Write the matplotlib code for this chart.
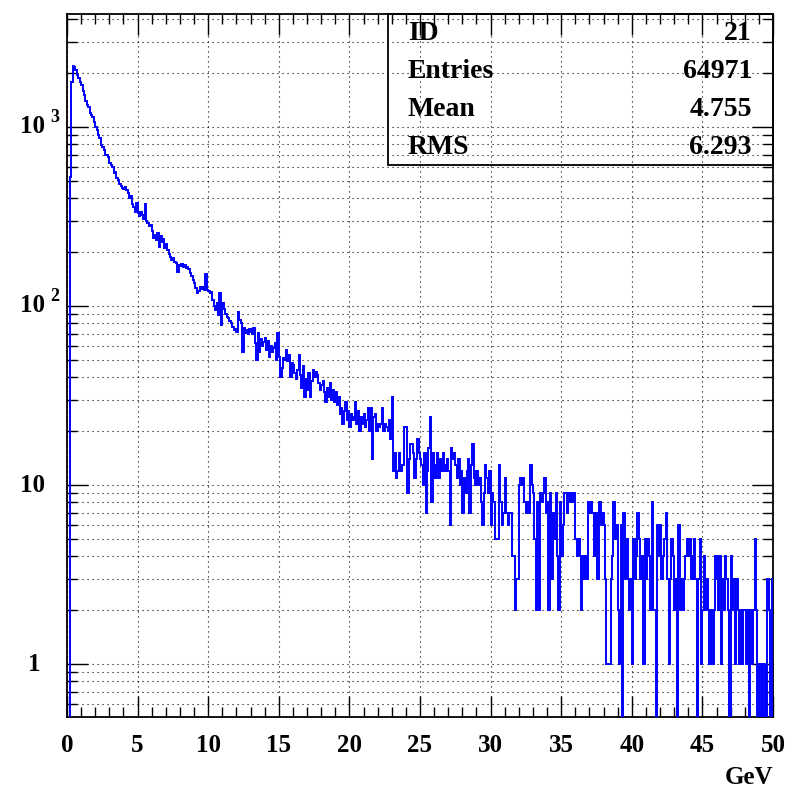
import numpy as np
import matplotlib
matplotlib.use("Agg")
import matplotlib.pyplot as plt
from matplotlib.ticker import MultipleLocator, FixedLocator, NullFormatter
from matplotlib.patches import Rectangle
import matplotlib.transforms as mtransforms

# ---------------- data ----------------
x_min, x_max = 0.0, 50.0
counts = [
    0, 0, 525, 1780, 2200, 2170, 2080, 1950, 1870, 1790,
    1720, 1580, 1510, 1390, 1330, 1300, 1190, 1165, 1140, 1070,
    1005, 960, 900, 865, 790, 775, 745, 700, 698, 683,
    630, 615, 600, 550, 560, 520, 505, 480, 470, 456,
    450, 462, 445, 430, 400, 410, 372, 357, 335, 376,
    330, 318, 335, 323, 305, 370, 300, 290, 278, 282,
    262, 240, 250, 233, 255, 214, 245, 228, 238, 210,
    222, 205, 195, 188, 180, 185, 176, 174, 155, 170,
    168, 172, 165, 170, 163, 166, 160, 152, 148, 140,
    135, 126, 118, 122, 128, 125, 127, 123, 151, 123,
    121, 118, 120, 108, 100, 95, 104, 89, 118, 78,
    104, 96, 90, 87, 86, 82, 80, 76, 73, 74,
    72, 93, 84, 80, 55, 75, 71, 73, 70, 74,
    72, 70, 75, 62, 50, 71, 55, 65, 60, 63,
    66, 57, 64, 52, 60, 55, 58, 62, 50, 71,
    52, 40, 45, 51, 50, 57, 49, 53, 40, 48,
    47, 42, 39, 44, 53, 41, 35, 46, 31, 39,
    34, 42, 31, 38, 44, 40, 43, 41, 37, 34,
    36, 38, 33, 29, 35, 31, 37, 30, 34, 29,
    33, 28, 31, 25, 27, 22, 26, 29, 23, 26,
    21, 25, 23, 24, 29, 22, 26, 20, 24, 22,
    25, 21, 23, 27, 20, 27, 14, 24, 25, 20,
    22, 21, 22, 27, 20, 22, 21, 20, 23, 18,
    31, 12, 15, 11, 12, 15, 12, 13, 13, 21,
    21, 9, 14, 17, 17, 15, 11, 14, 18, 15,
    14, 13, 10, 15, 7, 12, 16, 24, 8, 15,
    11, 13, 15, 11, 14, 12, 15, 13, 12, 14,
    12, 6, 16, 14, 15, 13, 11, 14, 10, 12,
    7, 11, 9, 12, 14, 7, 13, 17, 11, 10,
    12, 10, 11, 8, 6, 9, 13, 11, 9, 12,
    6, 9, 8, 5, 5, 5, 13, 8, 6, 7,
    11, 7, 6, 7, 7, 4, 4, 2, 3, 3,
    10, 11, 10, 11, 8, 7, 8, 7, 13, 10,
    9, 5, 2, 8, 2, 9, 8, 9, 11, 7,
    8, 2, 9, 3, 7, 5, 9, 4, 2, 8,
    4, 6, 9, 9, 7, 9, 8, 9, 8, 9,
    5, 4, 5, 4, 2, 4, 3, 4, 3, 8,
    7, 8, 7, 4, 7, 3, 3, 8, 6, 7,
    6, 3, 1, 1, 1, 3, 4, 8, 5, 6,
    2, 1, 6, 0, 7, 3, 5, 3, 2, 3,
    1, 5, 3, 4, 7, 5, 3, 4, 1, 5,
    3, 5, 4, 2, 8, 2, 2, 0, 6, 4,
    6, 3, 4, 5, 7, 3, 1, 3, 5, 4,
    2, 3, 0, 6, 2, 3, 2, 3, 4, 5,
    4, 5, 3, 4, 5, 3, 0, 3, 5, 1,
    2, 4, 2, 3, 2, 1, 2, 1, 2, 4,
    3, 2, 4, 1, 3, 2, 4, 3, 2, 0,
    4, 2, 3, 1, 3, 2, 1, 2, 1, 2,
    2, 1, 2, 0, 2, 1, 2, 5, 2, 0,
    1, 0, 1, 0, 1, 0, 3, 2, 0, 3,
]
x_tick_values = [0, 5, 10, 15, 20, 25, 30, 35, 40, 45, 50]
y_major_values = [1, 10, 100, 1000]
stats_labels = ["ID", "Entries", "Mean", "RMS"]
stats_values = ["21", "64971", "4.755", "6.293"]
x_title = "GeV"

# ---------------- figure ----------------
W, H = 789, 792
FONT = "Liberation Serif"
fig = plt.figure(figsize=(W / 100, H / 100), dpi=100)
L, R, T, B = 67, 773, 14, 717
ax = fig.add_axes([L / W, 1 - B / H, (R - L) / W, (B - T) / H])

n_bins = len(counts)
edges = np.linspace(x_min, x_max, n_bins + 1)
vals = np.asarray(counts, dtype=float)
draw_vals = np.where(vals > 0, vals, 1e-3)
ax.stairs(draw_vals, edges, color="#0000ff", lw=1.4, baseline=None, zorder=3)

ax.set_yscale("log")
ax.set_xlim(x_min, x_max)
ax.set_ylim(0.506, 4276)

# ticks
ax.xaxis.set_major_locator(FixedLocator(x_tick_values))
ax.xaxis.set_minor_locator(MultipleLocator(1))
ymin_locs = [m * 10 ** e for e in range(-1, 4) for m in range(2, 10)]
ax.yaxis.set_major_locator(FixedLocator(y_major_values))
ax.yaxis.set_minor_locator(FixedLocator(ymin_locs))
ax.yaxis.set_major_formatter(NullFormatter())
ax.yaxis.set_minor_formatter(NullFormatter())
ax.tick_params(which="both", direction="in", top=True, right=True, color="black", width=1.0)
ax.tick_params(which="major", length=15)
ax.tick_params(which="minor", length=7.5)
ax.tick_params(axis="x", which="major", pad=12, labelsize=18)
ax.set_xticklabels([str(v) for v in x_tick_values], fontfamily=FONT, fontweight="bold")

# grid
grid_kw = dict(color="black", lw=0.8, linestyle=(0, (1, 3.5)))
ax.grid(True, which="major", axis="x", **grid_kw)
ax.grid(True, which="both", axis="y", **grid_kw)
ax.set_axisbelow(True)
for s in ax.spines.values():
    s.set_linewidth(1.3)

# y tick labels (ROOT style 10 ^n)
trans = mtransforms.blended_transform_factory(fig.transFigure, ax.transData)
for v in y_major_values:
    e = int(round(np.log10(v)))
    if e == 0:
        ax.text(34 / W, v, "1", transform=trans, ha="center", va="center",
                fontsize=18, fontfamily=FONT, fontweight="bold")
    else:
        ax.text(20 / W, v, "10", transform=trans, ha="left", va="center",
                fontsize=18, fontfamily=FONT, fontweight="bold")
        if e > 1:
            sup_t = trans + mtransforms.ScaledTranslation(0, 7 / 72, fig.dpi_scale_trans)
            ax.text(50 / W, v, str(e), transform=sup_t, ha="left", va="center",
                    fontsize=13, fontfamily=FONT, fontweight="bold")

# x title
fig.text(773 / W, 1 - 778 / H, x_title, ha="right", va="center",
         fontsize=18, fontfamily=FONT, fontweight="bold")

# stats box
bx0 = (388 - L) / (R - L)
by0 = (B - 165) / (B - T)
ax.add_patch(Rectangle((bx0, by0), 1 - bx0, 1 - by0, transform=ax.transAxes,
                       fill=False, ec="black", lw=1.3, clip_on=False, zorder=5))
row_px = [33, 72, 109, 147]
for lab, val, py in zip(stats_labels, stats_values, row_px):
    yy = (B - py) / (B - T)
    ax.text((408 - L) / (R - L), yy, lab, transform=ax.transAxes, ha="left", va="center",
            fontsize=20, fontfamily=FONT, fontweight="bold", zorder=6)
    ax.text((752 - L) / (R - L), yy, val, transform=ax.transAxes, ha="right", va="center",
            fontsize=20, fontfamily=FONT, fontweight="bold", zorder=6)

fig.savefig("out.png", dpi=100)
